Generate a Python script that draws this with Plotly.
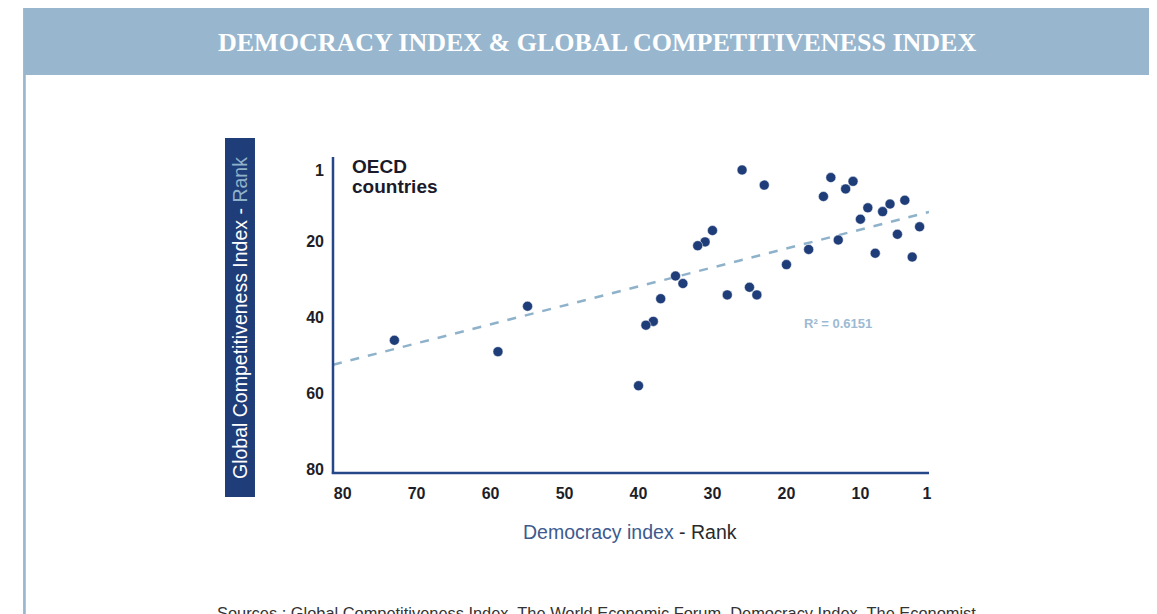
import numpy as np
import plotly.graph_objects as go

# Democracy index rank (x) and Global Competitiveness Index rank (y), OECD countries
democracy_rank = [26, 23, 14, 11, 12, 15, 4, 6, 9, 7, 10, 2, 30, 31, 32, 13, 5, 17, 8, 3,
                  20, 35, 34, 37, 28, 25, 24, 38, 39, 0.5, 73, 59, 55, 40]
gci_rank = [1, 5, 3, 4, 6, 8, 9, 10, 11, 12, 14, 16, 17, 20, 21, 19.5, 18, 22, 23, 24,
            26, 29, 31, 35, 34, 32, 34, 41, 42, 42, 46, 49, 37, 58]

# Trend line: y = intercept + slope * x
trend_intercept = 11.73
trend_slope = 0.501
r_squared = 0.6151

x_tickvals = [80, 70, 60, 50, 40, 30, 20, 10, 1]
x_ticktext = ["80", "70", "60", "50", "40", "30", "20", "10", "1"]
y_tickvals = [1, 20, 40, 60, 80]
y_ticktext = ["1", "20", "40", "60", "80"]

X_RANGE = [81.3, 0.73]
Y_RANGE = [81.06, -2.43]

DARK_BLUE = "#1f3d78"
LIGHT_BLUE = "#98b7cf"
TREND_BLUE = "#8fb2cb"

trend_x = np.array(X_RANGE)
trend_y = trend_intercept + trend_slope * trend_x

fig = go.Figure()
fig.add_trace(go.Scatter(
    x=trend_x, y=trend_y, mode="lines",
    line=dict(color=TREND_BLUE, width=2.5, dash="dash"),
    hoverinfo="skip", showlegend=False, cliponaxis=False,
))
fig.add_trace(go.Scatter(
    x=democracy_rank, y=gci_rank, mode="markers",
    marker=dict(color=DARK_BLUE, size=10, line=dict(color="white", width=0.5)),
    showlegend=False, cliponaxis=False,
))

tick_font = dict(family="Liberation Sans, Arial, sans-serif", size=16, color="#1e1e28", weight="bold")

# page body adds an 8px offset; plot area on screen: x 333..929, y 157..473
fig.update_layout(
    width=1149, height=606,
    margin=dict(l=325, r=228, t=149, b=141, pad=0),
    paper_bgcolor="white", plot_bgcolor="white",
    xaxis=dict(
        range=X_RANGE, tickvals=x_tickvals, ticktext=x_ticktext,
        showgrid=False, zeroline=False, showline=False,
        ticks="", ticklen=0, tickfont=tick_font,
    ),
    yaxis=dict(
        range=Y_RANGE, tickvals=y_tickvals, ticktext=y_ticktext,
        showgrid=False, zeroline=False, showline=False,
        ticks="", tickfont=tick_font,
    ),
)
fig.update_xaxes(ticklabelstandoff=9)
fig.update_yaxes(ticklabelstandoff=8)

shapes = [
    # title band
    dict(type="rect", xref="paper", yref="paper", x0=-0.520, x1=1.40, y0=1.2595, y1=1.50,
         fillcolor=LIGHT_BLUE, line=dict(width=0), layer="below"),
    # left border
    dict(type="rect", xref="paper", yref="paper", x0=-0.520, x1=-0.5155, y0=-0.6, y1=1.2595,
         fillcolor=LIGHT_BLUE, line=dict(width=0), layer="below"),
    # y label box
    dict(type="rect", xref="paper", yref="paper", x0=-0.1812, x1=-0.1309, y0=-0.0759, y1=1.0601,
         fillcolor=DARK_BLUE, line=dict(width=0), layer="below"),
    # axes lines
    dict(type="line", xref="paper", yref="paper", x0=0, x1=0, y0=-0.002, y1=1.0,
         line=dict(color="#26468a", width=2.5)),
    dict(type="line", xref="paper", yref="paper", x0=-0.002, x1=1.0, y0=0, y1=0,
         line=dict(color="#26468a", width=2.5)),
]
fig.update_layout(shapes=shapes)

annotations = [
    dict(text="<b>DEMOCRACY INDEX &amp; GLOBAL COMPETITIVENESS INDEX</b>",
         xref="paper", yref="paper", x=(597 - 333) / 596, y=(473 - 42) / 316,
         xanchor="center", yanchor="middle", showarrow=False,
         font=dict(family="Liberation Serif, DejaVu Serif, serif", size=26, color="white")),
    dict(text="<b>OECD</b>", xref="paper", yref="paper", x=(350 - 333) / 596, y=(473 - 167) / 316,
         xanchor="left", yanchor="middle", showarrow=False,
         font=dict(family="Liberation Sans, Arial, sans-serif", size=19, color="#1a1a2a")),
    dict(text="<b>countries</b>", xref="paper", yref="paper", x=(350 - 333) / 596, y=(473 - 186) / 316,
         xanchor="left", yanchor="middle", showarrow=False,
         font=dict(family="Liberation Sans, Arial, sans-serif", size=19, color="#1a1a2a")),
    dict(text="<b>R² = %.4f</b>" % r_squared, xref="paper", yref="paper",
         x=(838 - 333) / 596, y=(473 - 323) / 316,
         xanchor="center", yanchor="middle", showarrow=False,
         font=dict(family="Liberation Sans, Arial, sans-serif", size=13, color="#9dbad3")),
    dict(text="Global Competitiveness Index - <span style='color:#8fb2cb'>Rank</span>",
         xref="paper", yref="paper", x=(240 - 333) / 596, y=(473 - 318) / 316,
         xanchor="center", yanchor="middle", textangle=-90, showarrow=False,
         font=dict(family="Liberation Sans, Arial, sans-serif", size=19.5, color="white")),
    dict(text="<span style='color:#3d5a8f'>Democracy index</span> - Rank",
         xref="paper", yref="paper", x=(630 - 333) / 596, y=(473 - 532) / 316,
         xanchor="center", yanchor="middle", showarrow=False,
         font=dict(family="Liberation Sans, Arial, sans-serif", size=19.5, color="#2a2a2a")),
    dict(text="Sources : Global Competitiveness Index, The World Economic Forum, Democracy Index, The Economist",
         xref="paper", yref="paper", x=(215 - 333) / 596, y=(473 - 613) / 316,
         xanchor="left", yanchor="middle", showarrow=False,
         font=dict(family="Liberation Sans, Arial, sans-serif", size=16.4, color="#333333")),
]
fig.update_layout(annotations=annotations)

fig.write_html("out.html")
